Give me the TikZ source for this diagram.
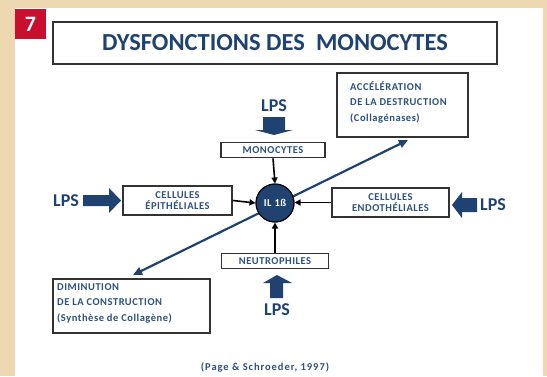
\documentclass[tikz,border=0pt]{standalone}
\usepackage{fontspec}
\setmainfont{Carlito}
\newfontfamily\spacedfont[LetterSpace=5]{Carlito}
\newfontfamily\citefont[LetterSpace=9]{Carlito}
\usetikzlibrary{arrows.meta}
\definecolor{beige}{HTML}{EDD8B2}
\definecolor{dblue}{HTML}{1F4270}
\definecolor{tblue}{HTML}{2F5080}
\definecolor{badge}{HTML}{C8102E}
\definecolor{boxline}{HTML}{333333}
\tikzset{
  sbox/.style={draw=boxline, line width=1.8pt, fill=white, inner sep=1pt, font=\spacedfont\bfseries\fontsize{10.5}{11.5}\selectfont, text=tblue, align=center},
  ltext/.style={anchor=north west, inner sep=0pt, font=\spacedfont\bfseries\fontsize{10.5}{15.5}\selectfont, text=tblue, align=left},
  lps/.style={font=\bfseries\fontsize{18}{18}\selectfont, text=dblue},
  ilnode/.style={circle, fill=dblue, draw=black, line width=1pt, minimum size=38pt, inner sep=0pt, text=white, font=\spacedfont\bfseries\fontsize{10.5}{11}\selectfont},
  blk/.style={-{Triangle[length=6pt,width=6pt]}, line width=1.6pt, black},
  bluarr/.style={{Triangle[length=9pt,width=8pt]}-{Triangle[length=9pt,width=8pt]}, line width=2.2pt, dblue},
}
\begin{document}
\begin{tikzpicture}[x=1pt,y=-1pt]
\useasboundingbox (0,0) rectangle (547,376);
\fill[beige] (0,0) rectangle (547,376);
\fill[white] (15,8) rectangle (543,376);
\fill[badge] (15,9) rectangle (46,39);
\node[text=white, font=\bfseries\fontsize{22}{22}\selectfont] (seven) at (30.5,24.5) {7};

\node[draw=boxline, line width=2pt, minimum width=444pt, minimum height=42pt, font=\bfseries\fontsize{24.5}{26}\selectfont, text=dblue] (title) at (275,43) {DYSFONCTIONS DES\ \ MONOCYTES};

% central circle
\node[ilnode] (il) at (275,203) {IL 1ß};

\node[sbox, minimum width=104pt, minimum height=15pt] (mono) at (273,150) {MONOCYTES};
\node[sbox, minimum width=109pt, minimum height=29pt] (epi) at (177.5,200.5) {CELLULES\\ÉPITHÉLIALES};
\node[sbox, minimum width=117pt, minimum height=29pt] (endo) at (390.5,202.5) {CELLULES\\ENDOTHÉLIALES};
\node[sbox, minimum width=107pt, minimum height=15pt] (neutro) at (275,261) {NEUTROPHILES};

\node[draw=boxline, line width=1.8pt, minimum width=131pt, minimum height=64pt] (acc) at (402.5,105) {};
\node[ltext] (acct) at (350,81) {ACCÉLÉRATION\\DE LA DESTRUCTION\\(Collagénases)};

\node[draw=boxline, line width=1.8pt, minimum width=157pt, minimum height=54pt] (dim) at (131.5,306) {};
\node[ltext] (dimt) at (57,283) {DIMINUTION\\DE LA CONSTRUCTION\\(Synthèse de Collagène)};

% black arrows to IL
\draw[blk] (mono.south) -- (il.north);
\draw[blk] (neutro.north) -- (il.south);
\draw[blk] (epi.east) -- (il.west);
\draw[blk] (endo.west) -- (il.east |- endo.west);

% blue diagonal double arrow
\coordinate (pa) at (133,275);
\coordinate (pb) at (408,140);
\draw[bluarr] (pa) -- (pb);
\node[ilnode] at (il) {IL 1ß};

% LPS block arrows
\fill[dblue] (83,195) -- (109,195) -- (109,188) -- (121,200.5) -- (109,213) -- (109,206) -- (83,206) -- cycle;
\node[lps] (lpsl) at (66,201) {LPS};
\fill[dblue] (477,198) -- (462,198) -- (462,192) -- (452,205) -- (462,218) -- (462,212) -- (477,212) -- cycle;
\node[lps] (lpsr) at (493,205) {LPS};
\fill[dblue] (263,117) -- (285,117) -- (285,130) -- (293,130) -- (274,135) -- (255,130) -- (263,130) -- cycle;
\node[lps] (lpst) at (274,106) {LPS};
\fill[dblue] (270,298) -- (283,298) -- (283,283) -- (292,283) -- (277,275) -- (263,283) -- (270,283) -- cycle;
\node[lps] (lpsb) at (277,310) {LPS};

\node[font=\citefont\bfseries\fontsize{10.5}{12}\selectfont, text=tblue] (cite) at (265,367) {(Page \& Schroeder, 1997)};
\end{tikzpicture}
\end{document}
